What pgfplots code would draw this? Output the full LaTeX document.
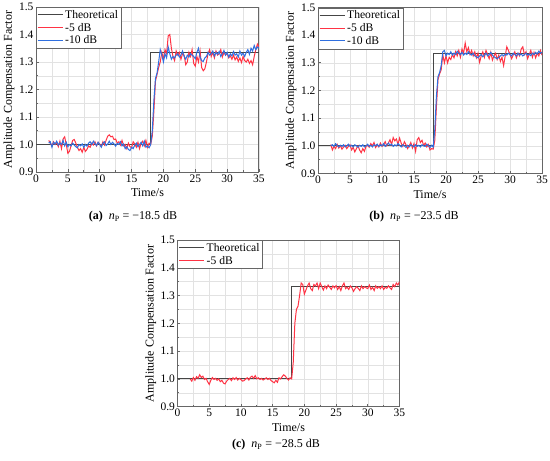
\documentclass[border=0pt]{standalone}
\usepackage{fontspec}
\setmainfont{Liberation Serif}
\usepackage{pgfplots}
\usepackage{pgfplotstable}
\pgfplotsset{compat=1.18}
\definecolor{cred}{HTML}{FF3344}
\definecolor{cblue}{HTML}{2F6FE0}
\definecolor{ctheo}{HTML}{454545}
\definecolor{cframe}{HTML}{666666}
\definecolor{cgrid}{HTML}{E2E2E2}

\pgfplotstableread{
t r b
2.00 1.015 1.005
2.25 1.005 1.010
2.50 0.995 0.990
2.75 1.010 1.008
3.00 1.000 1.002
3.25 1.008 1.012
3.50 0.992 0.998
3.75 1.012 1.006
4.00 0.985 1.000
4.25 1.020 1.015
4.50 1.028 0.995
4.75 1.000 1.008
5.00 0.968 0.992
5.25 0.975 1.000
5.50 0.995 0.995
5.75 1.015 1.005
6.00 1.018 0.998
6.25 1.005 0.992
6.50 0.990 0.988
6.75 0.978 1.000
7.00 0.985 0.995
7.25 0.972 1.002
7.50 0.990 0.990
7.75 0.975 1.000
8.00 0.982 0.994
8.25 0.995 1.005
8.50 0.990 1.010
8.75 1.005 1.000
9.00 0.998 1.012
9.25 1.010 1.004
9.50 0.995 0.996
9.75 1.008 1.008
10.00 1.002 1.000
10.25 0.992 0.990
10.50 1.010 1.005
10.75 0.998 1.010
11.00 1.015 0.996
11.25 1.030 1.002
11.50 1.035 1.012
11.75 1.028 1.000
12.00 1.030 1.008
12.25 1.018 1.002
12.50 1.020 0.994
12.75 1.005 1.004
13.00 1.010 1.000
13.25 0.998 1.010
13.50 1.015 0.995
13.75 0.995 1.002
14.00 1.000 0.985
14.25 0.985 0.992
14.50 1.005 0.982
14.75 0.992 0.978
15.00 0.988 0.990
15.25 1.010 0.985
15.50 1.002 0.998
15.75 0.990 1.005
16.00 1.008 0.992
16.25 0.985 1.000
16.50 1.005 1.008
16.75 1.012 0.995
17.00 0.995 1.012
17.25 1.015 0.990
17.50 0.990 0.995
17.75 1.005 0.988
18.00 1.000 1.000
18.25 1.030 1.050
18.50 1.120 1.160
18.75 1.230 1.240
19.00 1.255 1.260
19.25 1.280 1.300
19.50 1.300 1.345
19.75 1.335 1.325
20.00 1.310 1.300
20.25 1.345 1.330
20.50 1.330 1.315
20.75 1.395 1.355
21.00 1.400 1.330
21.25 1.350 1.310
21.50 1.320 1.320
21.75 1.305 1.315
22.00 1.340 1.325
22.25 1.325 1.330
22.50 1.335 1.318
22.75 1.310 1.325
23.00 1.330 1.340
23.25 1.325 1.320
23.50 1.290 1.310
23.75 1.300 1.325
24.00 1.335 1.318
24.25 1.320 1.330
24.50 1.345 1.325
24.75 1.295 1.320
25.00 1.285 1.312
25.25 1.320 1.335
25.50 1.300 1.350
25.75 1.340 1.318
26.00 1.280 1.305
26.25 1.268 1.302
26.50 1.275 1.315
26.75 1.300 1.320
27.00 1.330 1.335
27.25 1.345 1.325
27.50 1.320 1.330
27.75 1.335 1.340
28.00 1.315 1.322
28.25 1.340 1.335
28.50 1.325 1.328
28.75 1.330 1.338
29.00 1.345 1.320
29.25 1.318 1.330
29.50 1.335 1.342
29.75 1.325 1.325
30.00 1.330 1.335
30.25 1.315 1.318
30.50 1.322 1.330
30.75 1.310 1.322
31.00 1.325 1.338
31.25 1.308 1.325
31.50 1.318 1.330
31.75 1.302 1.318
32.00 1.315 1.340
32.25 1.298 1.325
32.50 1.320 1.332
32.75 1.305 1.320
33.00 1.300 1.335
33.25 1.310 1.345
33.50 1.295 1.328
33.75 1.305 1.350
34.00 1.290 1.340
34.25 1.320 1.360
34.50 1.345 1.345
34.75 1.365 1.355
35.00 1.355 1.350
}\dataA

\pgfplotstableread{
t r b
2.00 1.005 1.000
2.25 0.985 1.004
2.50 0.998 0.998
2.75 0.990 1.008
3.00 1.005 1.002
3.25 0.992 0.996
3.50 1.000 1.002
3.75 0.988 0.998
4.00 0.996 1.004
4.25 1.002 0.996
4.50 0.990 1.000
4.75 0.998 1.006
5.00 1.004 0.998
5.25 0.985 1.002
5.50 0.995 0.996
5.75 0.978 1.004
6.00 0.990 1.000
6.25 1.000 0.995
6.50 0.985 1.002
6.75 0.975 0.998
7.00 0.990 1.004
7.25 0.980 0.996
7.50 0.998 1.000
7.75 1.002 1.006
8.00 0.995 0.998
8.25 1.008 1.002
8.50 1.000 0.996
8.75 1.012 1.004
9.00 0.994 1.000
9.25 1.004 1.006
9.50 0.996 0.998
9.75 1.010 1.004
10.00 0.998 1.000
10.25 1.004 1.008
10.50 1.015 0.998
10.75 1.000 1.004
11.00 1.010 1.010
11.25 1.022 1.002
11.50 1.005 1.006
11.75 1.030 0.998
12.00 1.018 1.004
12.25 1.025 1.000
12.50 1.005 1.008
12.75 1.028 1.002
13.00 1.010 0.996
13.25 0.998 1.004
13.50 1.015 1.000
13.75 1.004 0.994
14.00 0.990 1.002
14.25 1.000 0.996
14.50 1.012 1.004
14.75 0.992 1.000
15.00 1.008 0.996
15.25 0.980 1.004
15.50 1.022 0.998
15.75 1.030 1.002
16.00 1.012 0.996
16.25 1.020 1.004
16.50 1.002 1.000
16.75 1.010 0.998
17.00 0.996 1.006
17.25 1.005 1.000
17.50 0.985 0.994
17.75 0.990 1.002
18.00 0.988 0.995
18.25 1.020 1.060
18.50 1.140 1.180
18.75 1.240 1.250
19.00 1.260 1.265
19.25 1.275 1.290
19.50 1.330 1.340
19.75 1.300 1.345
20.00 1.325 1.325
20.25 1.300 1.335
20.50 1.320 1.330
20.75 1.312 1.340
21.00 1.330 1.328
21.25 1.318 1.335
21.50 1.340 1.330
21.75 1.325 1.342
22.00 1.345 1.335
22.25 1.320 1.330
22.50 1.350 1.338
22.75 1.335 1.328
23.00 1.372 1.335
23.25 1.340 1.330
23.50 1.355 1.340
23.75 1.330 1.332
24.00 1.345 1.328
24.25 1.325 1.335
24.50 1.340 1.325
24.75 1.318 1.322
25.00 1.335 1.318
25.25 1.302 1.325
25.50 1.325 1.330
25.75 1.340 1.322
26.00 1.320 1.328
26.25 1.345 1.335
26.50 1.330 1.325
26.75 1.315 1.330
27.00 1.338 1.338
27.25 1.310 1.328
27.50 1.325 1.322
27.75 1.335 1.318
28.00 1.312 1.315
28.25 1.328 1.320
28.50 1.305 1.325
28.75 1.320 1.330
29.00 1.290 1.325
29.25 1.325 1.332
29.50 1.358 1.328
29.75 1.345 1.335
30.00 1.330 1.330
30.25 1.315 1.325
30.50 1.328 1.335
30.75 1.340 1.330
31.00 1.318 1.325
31.25 1.335 1.335
31.50 1.325 1.328
31.75 1.350 1.332
32.00 1.358 1.325
32.25 1.330 1.330
32.50 1.340 1.335
32.75 1.315 1.328
33.00 1.330 1.332
33.25 1.345 1.326
33.50 1.320 1.335
33.75 1.338 1.330
34.00 1.318 1.338
34.25 1.335 1.332
34.50 1.325 1.342
34.75 1.345 1.335
35.00 1.328 1.338
}\dataB

\pgfplotstableread{
t r
2.00 1.000
2.25 0.992
2.50 1.005
2.75 0.995
3.00 1.008
3.25 1.002
3.50 1.015
3.75 1.005
4.00 1.010
4.25 0.998
4.50 1.002
4.75 0.990
5.00 0.980
5.25 0.995
5.50 1.005
5.75 0.998
6.00 1.002
6.25 0.995
6.50 1.000
6.75 0.990
7.00 0.995
7.25 0.985
7.50 0.982
7.75 0.992
8.00 0.998
8.25 1.002
8.50 0.994
8.75 1.004
9.00 0.998
9.25 1.005
9.50 0.996
9.75 1.002
10.00 0.998
10.25 0.992
10.50 0.994
10.75 1.000
11.00 1.004
11.25 0.996
11.50 1.006
11.75 1.010
12.00 1.002
12.25 1.012
12.50 1.000
12.75 1.004
13.00 0.998
13.25 1.002
13.50 0.996
13.75 1.000
14.00 1.004
14.25 0.998
14.50 1.002
14.75 0.994
15.00 0.990
15.25 0.986
15.50 0.995
15.75 0.988
16.00 1.004
16.25 1.000
16.50 1.008
16.75 1.015
17.00 1.010
17.25 1.002
17.50 0.996
17.75 1.004
18.00 1.000
18.25 1.060
18.50 1.200
18.75 1.250
19.00 1.262
19.25 1.300
19.50 1.345
19.75 1.340
20.00 1.305
20.25 1.320
20.50 1.335
20.75 1.345
21.00 1.325
21.25 1.318
21.50 1.340
21.75 1.335
22.00 1.345
22.25 1.325
22.50 1.345
22.75 1.332
23.00 1.320
23.25 1.335
23.50 1.325
23.75 1.338
24.00 1.330
24.25 1.322
24.50 1.335
24.75 1.328
25.00 1.336
25.25 1.322
25.50 1.332
25.75 1.318
26.00 1.335
26.25 1.345
26.50 1.325
26.75 1.330
27.00 1.322
27.25 1.335
27.50 1.328
27.75 1.315
28.00 1.325
28.25 1.332
28.50 1.326
28.75 1.318
29.00 1.335
29.25 1.325
29.50 1.332
29.75 1.328
30.00 1.325
30.25 1.338
30.50 1.322
30.75 1.330
31.00 1.318
31.25 1.335
31.50 1.326
31.75 1.332
32.00 1.325
32.25 1.335
32.50 1.322
32.75 1.330
33.00 1.326
33.25 1.335
33.50 1.328
33.75 1.322
34.00 1.340
34.25 1.332
34.50 1.345
34.75 1.338
35.00 1.350
}\dataC

\pgfplotstableread{
t y
0 1.0
18 1.0
18 1.3333
35 1.3333
}\theo

\pgfplotsset{
  myaxis/.style={
    scale only axis, anchor=south west,
    xmin=0, xmax=35, ymin=0.9, ymax=1.5,
    xtick={0,5,10,15,20,25,30,35},
    xticklabels={0,5,10,15,20,25,30,35},
    ytick={0.9,1.0,1.1,1.2,1.3,1.4,1.5},
    yticklabels={0.9,1.0,1.1,1.2,1.3,1.4,1.5},
    minor xtick={2.5,7.5,12.5,17.5,22.5,27.5,32.5},
    minor ytick={0.95,1.05,1.15,1.25,1.35,1.45},
    grid=both,
    major grid style={cgrid, line width=0.5pt},
    minor grid style={cgrid, line width=0.5pt},
    axis line style={cframe, line width=1pt},
    tick style={cframe, line width=0.7pt},
    major tick length=3pt, minor tick length=2pt,
    tick align=inside, tick pos=left,
    ticklabel style={font=\fontsize{11.5}{13}\selectfont},
    xticklabel style={yshift=1pt},
    yticklabel style={xshift=1pt},
    xlabel={Time/s},
    ylabel={Amplitude Compensation Factor},
    label style={font=\fontsize{12}{13}\selectfont},
    xlabel style={at={(axis description cs:0.5,-0.125)}, anchor=center},
    ylabel style={at={(axis description cs:-0.121,0.5)}, anchor=center},
    legend style={at={(0,1)}, anchor=north west, draw=cframe, fill=white,
      font=\fontsize{11.6}{13}\selectfont, inner xsep=1pt, inner ysep=1pt,
      row sep=-0.8pt, cells={anchor=west}},
    legend image code/.code={\draw[#1] (0pt,0pt) -- (25pt,0pt);},
  },
  theo/.style={ctheo, line width=1pt},
  red5/.style={cred, line width=1pt},
  blue10/.style={cblue, line width=1pt},
}

\begin{document}
\begin{tikzpicture}
\useasboundingbox (0,0) rectangle (550pt,-461pt);

% (a)
\begin{axis}[myaxis, at={(36pt,-172pt)}, width=223pt, height=165pt]
\addplot[theo] table[x=t,y=y] {\theo};
\addlegendentry{Theoretical}
\addplot[red5] table[x=t,y=r] {\dataA};
\addlegendentry{-5 dB}
\addplot[blue10] table[x=t,y=b] {\dataA};
\addlegendentry{-10 dB}
\end{axis}

% (b)
\begin{axis}[myaxis, at={(318pt,-173.5pt)}, width=224pt, height=166pt]
\addplot[theo] table[x=t,y=y] {\theo};
\addlegendentry{Theoretical}
\addplot[red5] table[x=t,y=r] {\dataB};
\addlegendentry{-5 dB}
\addplot[blue10] table[x=t,y=b] {\dataB};
\addlegendentry{-10 dB}
\end{axis}

% (c)
\begin{axis}[myaxis, at={(177.5pt,-406.7pt)}, width=222pt, height=166.7pt]
\addplot[theo] table[x=t,y=y] {\theo};
\addlegendentry{Theoretical}
\addplot[red5] table[x=t,y=r] {\dataC};
\addlegendentry{-5 dB}
\end{axis}

\node[font=\fontsize{12}{13}\selectfont] at (133pt,-217pt)
  {\textbf{(a)}\enspace\textit{n}\textsubscript{P} = −18.5 dB};
\node[font=\fontsize{12}{13}\selectfont] at (414pt,-217pt)
  {\textbf{(b)}\enspace\textit{n}\textsubscript{P} = −23.5 dB};
\node[font=\fontsize{12}{13}\selectfont] at (276pt,-445pt)
  {\textbf{(c)}\enspace\textit{n}\textsubscript{P} = −28.5 dB};
\end{tikzpicture}
\end{document}
